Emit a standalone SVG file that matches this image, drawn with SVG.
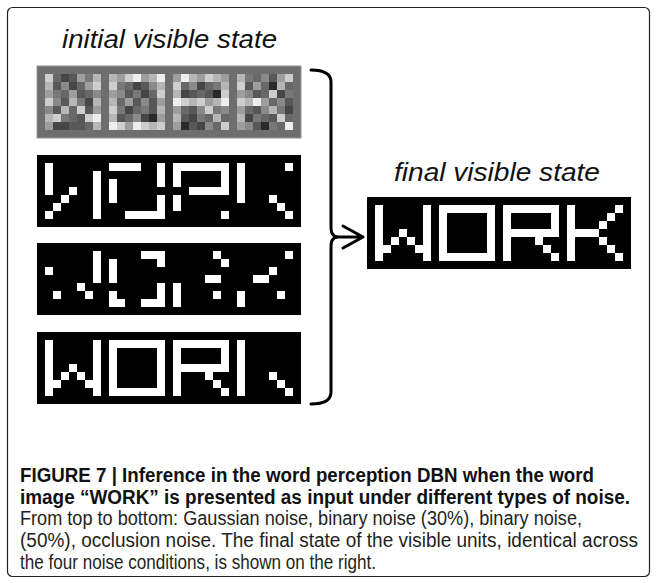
<svg xmlns="http://www.w3.org/2000/svg" xmlns:xlink="http://www.w3.org/1999/xlink" width="657" height="583" viewBox="0 0 657 583">
<style>
.lbl{font-family:"Liberation Sans",Arial,sans-serif;font-style:italic;font-size:25px;fill:#111}
.cap{font-family:"Liberation Sans Narrow","Liberation Sans",Arial,sans-serif;font-size:19.5px;fill:#231f20}
.capb{font-weight:bold;fill:#111}
.blk{fill:#000}
.on{fill:#fff}
.g0{fill:#2a2a2a}.g1{fill:#464646}.g2{fill:#585858}.g3{fill:#686868}.g4{fill:#787878}
.g5{fill:#8a8a8a}.g6{fill:#9e9e9e}.g7{fill:#b6b6b6}.g8{fill:#cecece}.g9{fill:#eeeeee}
.con{fill:none;stroke:#000;stroke-width:3;stroke-linecap:round;stroke-linejoin:round}
</style>
<defs>
<rect id="c" width="8" height="8"/>
</defs>
<rect id="frame" x="7.5" y="7.5" width="642" height="569" rx="5" fill="#fff" stroke="#222" stroke-width="1.2"/>

<g id="label-initial"><text class="lbl" x="62" y="48" textLength="215" lengthAdjust="spacingAndGlyphs">initial visible state</text></g>

<g id="panel-gaussian">
<rect x="37" y="66" width="264" height="72" fill="#6e6e6e" stroke="#949494" stroke-width="1"/>
<g transform="translate(0,74)">
<use href="#c" x="45" class="g8"/><use href="#c" x="53" class="g3"/><use href="#c" x="61" class="g1"/><use href="#c" x="69" class="g2"/><use href="#c" x="77" class="g6"/><use href="#c" x="85" class="g4"/><use href="#c" x="93" class="g7"/>
<use href="#c" x="109" class="g7"/><use href="#c" x="117" class="g6"/><use href="#c" x="125" class="g8"/><use href="#c" x="133" class="g9"/><use href="#c" x="141" class="g6"/><use href="#c" x="149" class="g7"/><use href="#c" x="157" class="g9"/>
<use href="#c" x="173" class="g6"/><use href="#c" x="181" class="g9"/><use href="#c" x="189" class="g7"/><use href="#c" x="197" class="g6"/><use href="#c" x="205" class="g8"/><use href="#c" x="213" class="g7"/><use href="#c" x="221" class="g6"/>
<use href="#c" x="237" class="g7"/><use href="#c" x="245" class="g4"/><use href="#c" x="253" class="g3"/><use href="#c" x="261" class="g5"/><use href="#c" x="269" class="g2"/><use href="#c" x="277" class="g6"/><use href="#c" x="285" class="g8"/>
</g>
<g transform="translate(0,82)">
<use href="#c" x="45" class="g7"/><use href="#c" x="53" class="g2"/><use href="#c" x="61" class="g5"/><use href="#c" x="69" class="g1"/><use href="#c" x="77" class="g3"/><use href="#c" x="85" class="g6"/><use href="#c" x="93" class="g8"/>
<use href="#c" x="109" class="g8"/><use href="#c" x="117" class="g4"/><use href="#c" x="125" class="g3"/><use href="#c" x="133" class="g1"/><use href="#c" x="141" class="g2"/><use href="#c" x="149" class="g5"/><use href="#c" x="157" class="g7"/>
<use href="#c" x="173" class="g8"/><use href="#c" x="181" class="g3"/><use href="#c" x="189" class="g5"/><use href="#c" x="197" class="g1"/><use href="#c" x="205" class="g3"/><use href="#c" x="213" class="g4"/><use href="#c" x="221" class="g7"/>
<use href="#c" x="237" class="g8"/><use href="#c" x="245" class="g2"/><use href="#c" x="253" class="g6"/><use href="#c" x="261" class="g3"/><use href="#c" x="269" class="g0"/><use href="#c" x="277" class="g7"/><use href="#c" x="285" class="g3"/>
</g>
<g transform="translate(0,90)">
<use href="#c" x="45" class="g6"/><use href="#c" x="53" class="g4"/><use href="#c" x="61" class="g3"/><use href="#c" x="69" class="g6"/><use href="#c" x="77" class="g2"/><use href="#c" x="85" class="g3"/><use href="#c" x="93" class="g5"/>
<use href="#c" x="109" class="g6"/><use href="#c" x="117" class="g5"/><use href="#c" x="125" class="g2"/><use href="#c" x="133" class="g4"/><use href="#c" x="141" class="g1"/><use href="#c" x="149" class="g3"/><use href="#c" x="157" class="g8"/>
<use href="#c" x="173" class="g7"/><use href="#c" x="181" class="g1"/><use href="#c" x="189" class="g2"/><use href="#c" x="197" class="g3"/><use href="#c" x="205" class="g2"/><use href="#c" x="213" class="g0"/><use href="#c" x="221" class="g8"/>
<use href="#c" x="237" class="g6"/><use href="#c" x="245" class="g5"/><use href="#c" x="253" class="g2"/><use href="#c" x="261" class="g3"/><use href="#c" x="269" class="g8"/><use href="#c" x="277" class="g1"/><use href="#c" x="285" class="g4"/>
</g>
<g transform="translate(0,98)">
<use href="#c" x="45" class="g8"/><use href="#c" x="53" class="g5"/><use href="#c" x="61" class="g2"/><use href="#c" x="69" class="g7"/><use href="#c" x="77" class="g4"/><use href="#c" x="85" class="g1"/><use href="#c" x="93" class="g7"/>
<use href="#c" x="109" class="g7"/><use href="#c" x="117" class="g3"/><use href="#c" x="125" class="g6"/><use href="#c" x="133" class="g2"/><use href="#c" x="141" class="g5"/><use href="#c" x="149" class="g2"/><use href="#c" x="157" class="g6"/>
<use href="#c" x="173" class="g9"/><use href="#c" x="181" class="g8"/><use href="#c" x="189" class="g7"/><use href="#c" x="197" class="g8"/><use href="#c" x="205" class="g6"/><use href="#c" x="213" class="g7"/><use href="#c" x="221" class="g9"/>
<use href="#c" x="237" class="g8"/><use href="#c" x="245" class="g7"/><use href="#c" x="253" class="g9"/><use href="#c" x="261" class="g6"/><use href="#c" x="269" class="g3"/><use href="#c" x="277" class="g5"/><use href="#c" x="285" class="g2"/>
</g>
<g transform="translate(0,106)">
<use href="#c" x="45" class="g5"/><use href="#c" x="53" class="g2"/><use href="#c" x="61" class="g7"/><use href="#c" x="69" class="g3"/><use href="#c" x="77" class="g8"/><use href="#c" x="85" class="g2"/><use href="#c" x="93" class="g6"/>
<use href="#c" x="109" class="g8"/><use href="#c" x="117" class="g4"/><use href="#c" x="125" class="g1"/><use href="#c" x="133" class="g3"/><use href="#c" x="141" class="g4"/><use href="#c" x="149" class="g2"/><use href="#c" x="157" class="g7"/>
<use href="#c" x="173" class="g6"/><use href="#c" x="181" class="g3"/><use href="#c" x="189" class="g2"/><use href="#c" x="197" class="g5"/><use href="#c" x="205" class="g8"/><use href="#c" x="213" class="g4"/><use href="#c" x="221" class="g5"/>
<use href="#c" x="237" class="g6"/><use href="#c" x="245" class="g3"/><use href="#c" x="253" class="g2"/><use href="#c" x="261" class="g5"/><use href="#c" x="269" class="g7"/><use href="#c" x="277" class="g4"/><use href="#c" x="285" class="g1"/>
</g>
<g transform="translate(0,114)">
<use href="#c" x="45" class="g7"/><use href="#c" x="53" class="g8"/><use href="#c" x="61" class="g4"/><use href="#c" x="69" class="g3"/><use href="#c" x="77" class="g2"/><use href="#c" x="85" class="g8"/><use href="#c" x="93" class="g9"/>
<use href="#c" x="109" class="g7"/><use href="#c" x="117" class="g2"/><use href="#c" x="125" class="g3"/><use href="#c" x="133" class="g5"/><use href="#c" x="141" class="g1"/><use href="#c" x="149" class="g0"/><use href="#c" x="157" class="g6"/>
<use href="#c" x="173" class="g7"/><use href="#c" x="181" class="g2"/><use href="#c" x="189" class="g1"/><use href="#c" x="197" class="g4"/><use href="#c" x="205" class="g3"/><use href="#c" x="213" class="g7"/><use href="#c" x="221" class="g3"/>
<use href="#c" x="237" class="g7"/><use href="#c" x="245" class="g1"/><use href="#c" x="253" class="g4"/><use href="#c" x="261" class="g3"/><use href="#c" x="269" class="g2"/><use href="#c" x="277" class="g8"/><use href="#c" x="285" class="g3"/>
</g>
<g transform="translate(0,122)">
<use href="#c" x="45" class="g6"/><use href="#c" x="53" class="g1"/><use href="#c" x="61" class="g1"/><use href="#c" x="69" class="g2"/><use href="#c" x="77" class="g2"/><use href="#c" x="85" class="g3"/><use href="#c" x="93" class="g7"/>
<use href="#c" x="109" class="g9"/><use href="#c" x="117" class="g8"/><use href="#c" x="125" class="g6"/><use href="#c" x="133" class="g9"/><use href="#c" x="141" class="g8"/><use href="#c" x="149" class="g7"/><use href="#c" x="157" class="g8"/>
<use href="#c" x="173" class="g6"/><use href="#c" x="181" class="g0"/><use href="#c" x="189" class="g2"/><use href="#c" x="197" class="g1"/><use href="#c" x="205" class="g5"/><use href="#c" x="213" class="g3"/><use href="#c" x="221" class="g8"/>
<use href="#c" x="237" class="g6"/><use href="#c" x="245" class="g5"/><use href="#c" x="253" class="g2"/><use href="#c" x="261" class="g0"/><use href="#c" x="269" class="g4"/><use href="#c" x="277" class="g3"/><use href="#c" x="285" class="g9"/>
</g>
</g>

<g id="panel-binary30">
<rect class="blk" x="37" y="155" width="264" height="72"/>
<path class="on" transform="translate(45,163)" d="M0 0h8v32h-8zM0 48h8v8h-8zM8 40h8v8h-8zM16 32h8v8h-8zM24 24h8v8h-8zM48 8h8v48h-8zM64 0h32v8h-32zM112 0h8v24h-8zM64 16h8v24h-8zM112 32h8v24h-8zM80 48h32v8h-32zM128 0h56v8h-56zM128 8h8v16h-8zM176 8h8v16h-8zM144 24h40v8h-40zM128 32h8v16h-8zM176 48h8v8h-8zM192 0h8v40h-8zM240 0h8v8h-8zM224 32h8v8h-8zM232 40h8v8h-8zM240 48h8v8h-8z"/>
</g>

<g id="panel-binary50">
<rect class="blk" x="37" y="243" width="264" height="72"/>
<path class="on" transform="translate(45,251)" d="M0 16h8v8h-8zM48 0h8v32h-8zM64 8h8v24h-8zM64 40h8v16h-8zM72 48h8v8h-8zM96 0h24v8h-24zM112 8h8v8h-8zM8 40h8v8h-8zM32 32h8v8h-8zM40 40h8v8h-8zM96 48h16v8h-16zM112 32h8v24h-8zM128 32h8v24h-8zM168 0h8v8h-8zM176 8h8v8h-8zM160 24h16v8h-16zM168 40h8v8h-8zM192 40h8v16h-8zM208 24h16v8h-16zM224 16h8v8h-8zM240 0h8v8h-8zM232 40h8v8h-8z"/>
</g>

<g id="panel-occlusion">
<rect class="blk" x="37" y="332" width="264" height="72"/>
<path class="on" transform="translate(45,340)" d="M0 0h8v56h-8zM48 0h8v56h-8zM24 24h8v8h-8zM16 32h8v8h-8zM32 32h8v8h-8zM8 40h8v8h-8zM40 40h8v8h-8zM64 0h56v8h-56zM64 48h56v8h-56zM64 8h8v40h-8zM112 8h8v40h-8zM128 0h56v8h-56zM128 8h8v48h-8zM176 8h8v16h-8zM136 24h48v8h-48zM160 32h8v8h-8zM168 40h8v8h-8zM176 48h8v8h-8zM192 0h8v56h-8zM224 32h8v8h-8zM232 40h8v8h-8zM240 48h8v8h-8z"/>
</g>

<g id="connectors">
<path class="con" d="M311 70Q331 70 331 82L331 228Q331 236 337 237Q331 238 331 246L331 392Q331 404 311 404"/>
<path class="con" d="M337 237H362M343 226L363 237L343 248"/>
</g>

<g id="label-final"><text class="lbl" x="394" y="181" textLength="206" lengthAdjust="spacingAndGlyphs">final visible state</text></g>

<g id="panel-final">
<rect class="blk" x="367" y="197" width="264" height="72"/>
<path class="on" transform="translate(375,205)" d="M0 0h8v56h-8zM48 0h8v56h-8zM24 24h8v8h-8zM16 32h8v8h-8zM32 32h8v8h-8zM8 40h8v8h-8zM40 40h8v8h-8zM64 0h56v8h-56zM64 48h56v8h-56zM64 8h8v40h-8zM112 8h8v40h-8zM128 0h56v8h-56zM128 8h8v48h-8zM176 8h8v16h-8zM136 24h48v8h-48zM160 32h8v8h-8zM168 40h8v8h-8zM176 48h8v8h-8zM192 0h8v56h-8zM200 24h24v8h-24zM224 16h8v8h-8zM232 8h8v8h-8zM240 0h8v8h-8zM224 32h8v8h-8zM232 40h8v8h-8zM240 48h8v8h-8z"/>
</g>

<g id="caption">
<text class="cap capb" x="20" y="482" textLength="574" lengthAdjust="spacingAndGlyphs">FIGURE 7 | Inference in the word perception DBN when the word</text>
<text class="cap capb" x="20" y="504" textLength="610" lengthAdjust="spacingAndGlyphs">image “WORK” is presented as input under different types of noise.</text>
<text class="cap" x="20" y="525" textLength="562" lengthAdjust="spacingAndGlyphs">From top to bottom: Gaussian noise, binary noise (30%), binary noise,</text>
<text class="cap" x="20" y="547" textLength="618" lengthAdjust="spacingAndGlyphs">(50%), occlusion noise. The final state of the visible units, identical across</text>
<text class="cap" x="20" y="569" textLength="356" lengthAdjust="spacingAndGlyphs">the four noise conditions, is shown on the right.</text>
</g>
</svg>
